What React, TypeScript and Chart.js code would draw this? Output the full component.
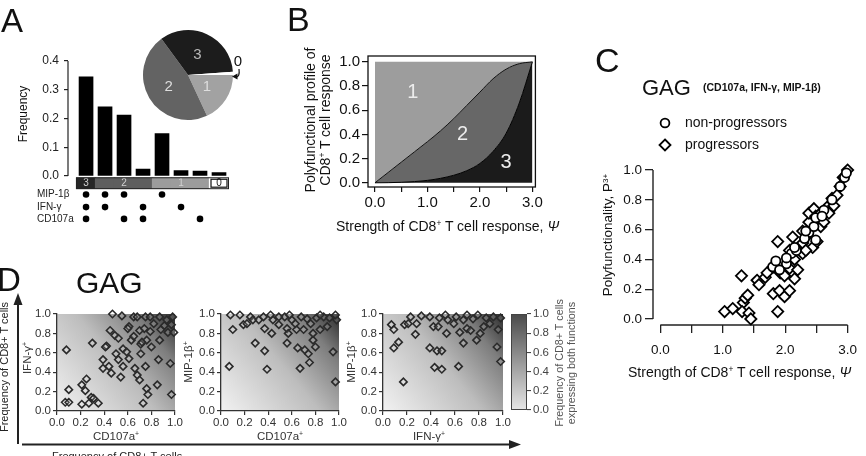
import React, { useEffect, useRef } from "react";
import { Chart, registerables } from "chart.js";

Chart.register(...registerables);

const FONT = "'Liberation Sans', Arial, Helvetica, sans-serif";
Chart.defaults.font.family = FONT;
Chart.defaults.color = "#111";

/* ---------------- Panel A ---------------- */
const aCategories = ["MIP-1β IFN-γ CD107a", "MIP-1β IFN-γ", "MIP-1β CD107a", "IFN-γ CD107a", "MIP-1β", "IFN-γ", "CD107a", "none"];
const aFrequency = [0.345, 0.241, 0.212, 0.024, 0.148, 0.019, 0.017, 0.012];
const aDegree = [3, 2, 2, 2, 1, 1, 1, 0];
const aMarkerNames = ["MIP-1β", "IFN-γ", "CD107a"];
const aHasMIP = [1, 1, 1, 0, 1, 0, 0, 0];
const aHasIFN = [1, 1, 0, 1, 0, 1, 0, 0];
const aHasCD107a = [1, 0, 1, 1, 0, 0, 1, 0];
const aYTicks = [0, 0.1, 0.2, 0.3, 0.4];
const pieOrder = [1, 2, 3, 0];

/* ---------------- Panel B ---------------- */
const bStrength = [0, 0.25, 0.5, 0.75, 1, 1.25, 1.5, 1.75, 2, 2.25, 2.5, 2.75, 3];
const bUpper = [0, 0.085, 0.17, 0.255, 0.34, 0.43, 0.53, 0.64, 0.75, 0.86, 0.94, 0.985, 1];
const bLower = [0, 0.001, 0.004, 0.01, 0.02, 0.037, 0.062, 0.1, 0.16, 0.26, 0.41, 0.66, 1];
const bRegionLabels = ["1", "2", "3"];
const bRegionX = [0.72, 1.67, 2.5];
const bRegionY = [0.75, 0.4, 0.17];
const bXTicks = [0, 0.5, 1, 1.5, 2, 2.5, 3];
const bYTicks = [0, 0.2, 0.4, 0.6, 0.8, 1];

/* ---------------- Panel C ---------------- */
const cNonProgressors = [
  [1.80, 0.35], [1.85, 0.39], [2.02, 0.37], [2.10, 0.44], [2.18, 0.46], [2.38, 0.58], [2.46, 0.62],
  [2.49, 0.68], [2.62, 0.73], [2.75, 0.80], [2.88, 0.89], [2.95, 0.95], [2.98, 0.98], [2.31, 0.54],
  [1.91, 0.33], [2.02, 0.41], [2.59, 0.69], [2.15, 0.48], [2.49, 0.53], [2.33, 0.59],
];
const cProgressors = [
  [1.03, 0.05], [1.16, 0.07], [1.30, 0.29], [1.33, 0.11], [1.36, 0.14], [1.40, 0.16], [1.31, 0.05],
  [1.42, 0.04], [1.45, 0.0], [1.55, 0.26], [1.58, 0.23], [1.68, 0.28], [1.81, 0.17], [1.88, 0.52],
  [1.88, 0.05], [1.91, 0.19], [1.92, 0.31], [1.99, 0.15], [2.07, 0.19], [2.15, 0.27], [2.12, 0.55],
  [1.99, 0.29], [2.07, 0.34], [2.15, 0.40], [2.28, 0.44], [2.33, 0.55], [2.38, 0.65], [2.38, 0.71],
  [2.46, 0.74], [2.49, 0.69], [2.44, 0.48], [2.51, 0.52], [2.57, 0.62], [2.62, 0.65], [2.67, 0.75],
  [2.75, 0.81], [2.83, 0.83], [2.78, 0.76], [2.88, 0.89], [2.93, 0.95], [3.0, 1.0], [2.28, 0.51],
  [1.81, 0.35], [1.71, 0.31], [2.33, 0.46], [2.20, 0.33], [2.07, 0.46], [2.70, 0.71], [2.57, 0.71],
  [2.28, 0.59],
];
const cXTicks = [0, 0.5, 1, 1.5, 2, 2.5, 3];
const cYTicks = [0, 0.2, 0.4, 0.6, 0.8, 1];

/* ---------------- Panel D ---------------- */
const dCd107aIfng = [
  [0.08, 0.63], [0.07, 0.09], [0.10, 0.22], [0.10, 0.09], [0.21, 0.07], [0.21, 0.27], [0.24, 0.21],
  [0.25, 0.33], [0.27, 0.08], [0.29, 0.14], [0.31, 0.13], [0.35, 0.08], [0.30, 0.70], [0.42, 0.67],
  [0.39, 0.53], [0.39, 0.44], [0.44, 0.46], [0.46, 0.39], [0.45, 0.83], [0.49, 0.78], [0.52, 0.75],
  [0.50, 0.59], [0.52, 0.53], [0.54, 0.35], [0.56, 0.46], [0.56, 0.64], [0.59, 0.61], [0.61, 0.54],
  [0.61, 0.87], [0.55, 0.98], [0.47, 1.0], [0.65, 0.97], [0.68, 0.97], [0.70, 0.83], [0.71, 0.69],
  [0.71, 0.59], [0.66, 0.44], [0.68, 0.37], [0.70, 0.32], [0.73, 0.08], [0.75, 0.46], [0.76, 0.23],
  [0.77, 0.17], [0.75, 0.97], [0.74, 0.85], [0.76, 0.73], [0.79, 0.82], [0.80, 0.66], [0.82, 0.90],
  [0.85, 0.27], [0.86, 0.53], [0.87, 0.73], [0.88, 0.84], [0.91, 0.88], [0.93, 0.94], [0.94, 0.81],
  [0.96, 0.49], [0.97, 0.17], [0.98, 0.97], [0.97, 0.89], [0.99, 0.81], [0.63, 0.73], [0.65, 0.77],
  [0.79, 0.97], [0.87, 0.97], [0.72, 0.71], [0.60, 0.85], [0.41, 0.66],
];
const dCd107aMip = [
  [0.07, 0.46], [0.10, 0.84], [0.08, 0.99], [0.19, 0.89], [0.22, 0.90], [0.25, 0.97], [0.29, 0.70],
  [0.27, 0.94], [0.32, 0.94], [0.37, 0.85], [0.37, 0.62], [0.39, 0.43], [0.43, 0.80], [0.36, 0.97],
  [0.44, 0.94], [0.49, 0.89], [0.54, 0.97], [0.56, 0.70], [0.56, 0.85], [0.57, 0.80], [0.60, 0.94],
  [0.64, 0.84], [0.65, 0.65], [0.67, 0.44], [0.71, 0.63], [0.74, 0.59], [0.75, 0.50], [0.73, 0.95],
  [0.76, 0.90], [0.78, 0.73], [0.80, 0.66], [0.84, 0.84], [0.90, 0.87], [0.95, 0.61], [0.97, 0.30],
  [0.98, 0.94], [0.68, 0.97], [0.81, 0.96], [0.87, 0.97], [0.92, 0.96], [0.63, 0.90], [0.70, 0.84],
  [0.49, 0.97], [0.42, 0.99], [0.78, 0.80], [0.16, 0.99], [0.58, 0.99], [0.84, 0.99], [0.97, 0.99],
];
const dIfngMip = [
  [0.07, 0.89], [0.09, 0.84], [0.09, 0.65], [0.13, 0.71], [0.17, 0.30], [0.18, 0.89], [0.21, 0.90],
  [0.27, 0.79], [0.28, 0.90], [0.23, 0.97], [0.32, 0.98], [0.39, 0.65], [0.42, 0.87], [0.46, 0.87],
  [0.45, 0.62], [0.49, 0.62], [0.43, 0.45], [0.49, 0.43], [0.53, 0.80], [0.54, 0.94], [0.63, 0.46],
  [0.64, 0.81], [0.67, 0.70], [0.70, 0.85], [0.73, 0.83], [0.78, 0.73], [0.81, 0.80], [0.84, 0.87],
  [0.95, 0.66], [0.96, 0.84], [0.98, 0.51], [0.61, 0.97], [0.67, 0.94], [0.75, 0.95], [0.86, 0.96],
  [0.92, 0.97], [0.98, 0.96], [0.47, 0.96], [0.39, 0.97], [0.70, 0.99], [0.79, 0.99], [0.52, 0.99],
  [0.59, 0.90], [0.89, 0.90],
];
const dTicks = [0, 0.2, 0.4, 0.6, 0.8, 1];
const colorbarTicks = [0, 0.2, 0.4, 0.6, 0.8, 1];

/* ---------------- styles ---------------- */
const DEGREE_COLORS: Record<number, string> = { 3: "#1c1c1c", 2: "#636363", 1: "#a2a2a2", 0: "#ffffff" };
const STRIP_COLORS: Record<number, string> = { 3: "#262626", 2: "#5e5e5e", 1: "#9c9c9c", 0: "#ffffff" };
const A_STRIP_LO = -0.044;
const A_STRIP_HI = -0.006;
const A_ROW_Y = [-0.064, -0.108, -0.149];

const base: any = {
  animation: false,
  responsive: false,
  maintainAspectRatio: false,
  events: [],
  plugins: { legend: { display: false }, tooltip: { enabled: false } },
};

const setTicks = (vals: number[]) => (s: any) => {
  s.ticks = vals.map((v) => ({ value: v }));
};
const fix1 = (v: any) => Number(v).toFixed(1);
const intLabel = (v: any) => (Number.isInteger(Number(v)) ? Number(v).toFixed(1) : "");

/* ---------------- chart builders ---------------- */
function buildA() {
  const rows = [aHasMIP, aHasIFN, aHasCD107a];
  const dots: any[] = [];
  rows.forEach((row, r) => row.forEach((has, i) => { if (has) dots.push({ x: i + 1, y: A_ROW_Y[r] }); }));
  const decor = {
    id: "aDecor",
    afterDatasetsDraw(chart: any) {
      const { ctx, chartArea: ca } = chart;
      const xs = chart.scales.x, ys = chart.scales.y;
      ctx.save();
      ctx.strokeStyle = "#222";
      ctx.lineWidth = 1.2;
      ctx.beginPath();
      ctx.moveTo(ca.left, ys.getPixelForValue(0));
      ctx.lineTo(ca.left, ys.getPixelForValue(0.4));
      ctx.stroke();
      const half = (xs.getPixelForValue(2) - xs.getPixelForValue(1)) / 2;
      const top = ys.getPixelForValue(A_STRIP_HI), bot = ys.getPixelForValue(A_STRIP_LO);
      let i = 0;
      while (i < aDegree.length) {
        let j = i;
        while (j + 1 < aDegree.length && aDegree[j + 1] === aDegree[i]) j++;
        const l = xs.getPixelForValue(i + 1) - half, r = xs.getPixelForValue(j + 1) + half;
        if (aDegree[i] === 0) {
          ctx.strokeStyle = "#111";
          ctx.lineWidth = 1.2;
          ctx.strokeRect(l + 1.5, top + 1.5, r - l - 3, bot - top - 3);
        }
        ctx.fillStyle = aDegree[i] === 0 ? "#111" : "#d2d2d2";
        ctx.font = `10px ${FONT}`;
        ctx.textAlign = "center";
        ctx.textBaseline = "middle";
        ctx.fillText(String(aDegree[i]), (l + r) / 2, (top + bot) / 2 + 0.5);
        i = j + 1;
      }
      const l0 = xs.getPixelForValue(1) - half, r0 = xs.getPixelForValue(aDegree.length) + half;
      ctx.strokeStyle = "#222";
      ctx.lineWidth = 1;
      ctx.strokeRect(l0, top, r0 - l0, bot - top);
      ctx.fillStyle = "#222";
      ctx.font = `10px ${FONT}`;
      ctx.textAlign = "left";
      ctx.textBaseline = "middle";
      aMarkerNames.forEach((n, r) => ctx.fillText(n, ca.left - 31, ys.getPixelForValue(A_ROW_Y[r])));
      ctx.restore();
    },
  };
  return {
    type: "bar",
    data: {
      labels: aCategories,
      datasets: [
        { type: "bar", label: "Frequency", data: aFrequency.map((v, i) => ({ x: i + 1, y: v })), backgroundColor: "#000", barThickness: 14, grouped: false },
        { type: "bar", label: "Degree", data: aDegree.map((d, i) => ({ x: i + 1, y: [A_STRIP_LO, A_STRIP_HI] })), backgroundColor: aDegree.map((d) => STRIP_COLORS[d]), barThickness: 19.6, grouped: false },
        { type: "line", label: "Markers", data: dots, showLine: false, pointRadius: 3.3, pointBackgroundColor: "#000", pointBorderWidth: 0, clip: false },
      ],
    },
    options: {
      ...base,
      layout: { padding: { left: 0, top: 21, right: 11.5, bottom: 7.9 } },
      scales: {
        x: { type: "linear", display: false, min: 0.05, max: 8.5, offset: false },
        y: {
          type: "linear", min: -0.18, max: 0.4,
          afterBuildTicks: setTicks(aYTicks),
          afterFit: (s: any) => { s.width = 68; },
          border: { display: false },
          grid: { display: true, drawOnChartArea: false, drawTicks: true, tickLength: 4, color: "#222", lineWidth: 1.2 },
          ticks: { font: { family: FONT, size: 12 }, color: "#222", padding: 5, callback: fix1 },
        },
      },
    },
    plugins: [decor],
  };
}

function buildPie() {
  const values = pieOrder.map((d) => aFrequency.reduce((s, v, i) => s + (aDegree[i] === d ? v : 0), 0));
  const decor = {
    id: "pieDecor",
    afterDatasetsDraw(chart: any) {
      const { ctx } = chart;
      const meta = chart.getDatasetMeta(0);
      ctx.save();
      ctx.font = `15px ${FONT}`;
      ctx.textAlign = "center";
      ctx.textBaseline = "middle";
      meta.data.forEach((arc: any, i: number) => {
        if (pieOrder[i] === 0) return;
        const p = arc.tooltipPosition();
        ctx.fillStyle = pieOrder[i] === 3 ? "#b8b8b8" : "#dedede";
        ctx.fillText(String(pieOrder[i]), p.x, p.y);
      });
      const a0: any = meta.data[0];
      const x = a0.x, y = a0.y, R = a0.outerRadius;
      ctx.fillStyle = "#111";
      ctx.fillText("0", x + R + 5, y - 13);
      ctx.strokeStyle = "#111";
      ctx.lineWidth = 1.2;
      ctx.beginPath();
      ctx.moveTo(x + R + 6, y - 6);
      ctx.quadraticCurveTo(x + R + 7, y + 2, x + R + 3, y + 2);
      ctx.stroke();
      ctx.beginPath();
      ctx.moveTo(x + R - 1, y + 1.5);
      ctx.lineTo(x + R + 4.5, y - 1.5);
      ctx.lineTo(x + R + 4.5, y + 4.5);
      ctx.closePath();
      ctx.fill();
      ctx.restore();
    },
  };
  return {
    type: "pie",
    data: { labels: pieOrder.map(String), datasets: [{ data: values, backgroundColor: pieOrder.map((d) => DEGREE_COLORS[d]), borderWidth: 0 }] },
    options: { ...base, rotation: 90, layout: { padding: { left: 10, top: 10, right: 20, bottom: 15 } } },
    plugins: [decor],
  };
}

function buildB() {
  const pts = (ys: number[]) => bStrength.map((x, i) => ({ x, y: ys[i] }));
  const decor = {
    id: "bDecor",
    afterDatasetsDraw(chart: any) {
      const { ctx, chartArea: ca } = chart;
      const xs = chart.scales.x, ys = chart.scales.y;
      ctx.save();
      ctx.fillStyle = "#ececec";
      ctx.font = `20px ${FONT}`;
      ctx.textAlign = "center";
      ctx.textBaseline = "middle";
      bRegionLabels.forEach((t, i) => ctx.fillText(t, xs.getPixelForValue(bRegionX[i]), ys.getPixelForValue(bRegionY[i])));
      ctx.strokeStyle = "#111";
      ctx.lineWidth = 1.3;
      ctx.strokeRect(ca.left, ca.top, ca.right - ca.left, ca.bottom - ca.top);
      ctx.restore();
    },
  };
  const tickFont = { family: FONT, size: 15 };
  return {
    type: "line",
    data: {
      datasets: [
        { label: "3", data: pts(bLower), fill: { value: 0 }, backgroundColor: "#1b1b1b", borderColor: "#000", borderWidth: 1, pointRadius: 0, cubicInterpolationMode: "monotone" },
        { label: "2", data: pts(bUpper), fill: "-1", backgroundColor: "#676767", borderColor: "#111", borderWidth: 1, pointRadius: 0, cubicInterpolationMode: "monotone" },
        { label: "1", data: bStrength.map((x) => ({ x, y: 1 })), fill: "-1", backgroundColor: "#9d9d9d", borderWidth: 0, pointRadius: 0 },
      ],
    },
    options: {
      ...base,
      layout: { padding: { left: 0, top: 8, right: 9, bottom: 3 } },
      scales: {
        x: {
          type: "linear", min: -0.1329, max: 3.057,
          afterBuildTicks: setTicks(bXTicks),
          afterFit: (s: any) => { s.height = 30; },
          border: { display: false },
          grid: { drawOnChartArea: false, tickLength: 5, color: "#111", lineWidth: 1.2 },
          ticks: { font: tickFont, color: "#111", padding: 2, maxRotation: 0, autoSkip: false, callback: intLabel },
        },
        y: {
          type: "linear", min: -0.0348, max: 1.0485,
          afterBuildTicks: setTicks(bYTicks),
          afterFit: (s: any) => { s.width = 38; },
          border: { display: false },
          grid: { drawOnChartArea: false, tickLength: 6, color: "#111", lineWidth: 1.2 },
          ticks: { font: tickFont, color: "#111", padding: 2, callback: fix1 },
        },
      },
    },
    plugins: [decor],
  };
}

function drawDiamond(ctx: any, x: number, y: number, r: number) {
  ctx.beginPath();
  ctx.moveTo(x, y - r);
  ctx.lineTo(x + r, y);
  ctx.lineTo(x, y + r);
  ctx.lineTo(x - r, y);
  ctx.closePath();
}

function buildC() {
  const decor = {
    id: "cDecor",
    beforeDatasetsDraw(chart: any) {
      const { ctx, chartArea: ca } = chart;
      const xs = chart.scales.x, ys = chart.scales.y;
      ctx.save();
      ctx.strokeStyle = "#222";
      ctx.lineWidth = 1.4;
      ctx.beginPath();
      ctx.moveTo(ca.left, ys.getPixelForValue(0));
      ctx.lineTo(ca.left, ys.getPixelForValue(1));
      ctx.moveTo(xs.getPixelForValue(0), ca.bottom);
      ctx.lineTo(xs.getPixelForValue(3), ca.bottom);
      ctx.stroke();
      ctx.restore();
    },
    afterDatasetsDraw(chart: any) {
      const { ctx } = chart;
      ctx.save();
      ctx.strokeStyle = "#000";
      ctx.lineWidth = 1.8;
      ctx.fillStyle = "#fff";
      ctx.beginPath();
      ctx.arc(75, 83, 4.4, 0, Math.PI * 2);
      ctx.fill();
      ctx.stroke();
      drawDiamond(ctx, 75, 105, 5.5);
      ctx.fill();
      ctx.stroke();
      ctx.fillStyle = "#111";
      ctx.font = `14px ${FONT}`;
      ctx.textAlign = "left";
      ctx.textBaseline = "middle";
      ctx.fillText("non-progressors", 95, 83);
      ctx.fillText("progressors", 95, 105);
      ctx.restore();
    },
  };
  const tickFont = { family: FONT, size: 13.5 };
  return {
    type: "scatter",
    data: {
      datasets: [
        { label: "non-progressors", data: cNonProgressors.map(([x, y]) => ({ x, y })), pointStyle: "circle", pointRadius: 4.6, borderWidth: 1.8, borderColor: "#000", backgroundColor: "#fff", clip: false },
        { label: "progressors", data: cProgressors.map(([x, y]) => ({ x, y })), pointStyle: "rectRot", pointRadius: 5.6, borderWidth: 1.8, borderColor: "#000", backgroundColor: "#fff", clip: false },
      ],
    },
    options: {
      ...base,
      layout: { padding: { left: 0, top: 130, right: 13, bottom: 20 } },
      scales: {
        x: {
          type: "linear", min: -0.117, max: 3,
          afterBuildTicks: setTicks(cXTicks),
          afterFit: (s: any) => { s.height = 40; },
          border: { display: false },
          grid: { drawOnChartArea: false, tickLength: 8, color: "#222", lineWidth: 1.3 },
          ticks: { font: tickFont, color: "#111", padding: 9, maxRotation: 0, autoSkip: false, callback: intLabel },
        },
        y: {
          type: "linear", min: -0.0403, max: 1,
          afterBuildTicks: setTicks(cYTicks),
          afterFit: (s: any) => { s.width = 63; },
          border: { display: false },
          grid: { drawOnChartArea: false, tickLength: 8, color: "#222", lineWidth: 1.3 },
          ticks: { font: tickFont, color: "#111", padding: 3, callback: fix1 },
        },
      },
    },
    plugins: [decor],
  };
}

const heatmap = {
  id: "heatmap",
  beforeDraw(chart: any) {
    const { ctx, chartArea: ca } = chart;
    ctx.save();
    const g = ctx.createLinearGradient(ca.left, ca.bottom, ca.right, ca.top);
    g.addColorStop(0, "#f2f2f2");
    g.addColorStop(0.5, "#bdbdbd");
    g.addColorStop(0.8, "#7d7d7d");
    g.addColorStop(1, "#2c2c2c");
    ctx.fillStyle = g;
    ctx.fillRect(ca.left, ca.top, ca.right - ca.left, ca.bottom - ca.top);
    ctx.restore();
  },
};

function buildD(points: number[][], yWidth: number, rightPad: number) {
  const tickFont = { family: FONT, size: 11.5 };
  const axis = (afterFit: (s: any) => void, padding: number) => ({
    type: "linear", min: 0, max: 1,
    afterBuildTicks: setTicks(dTicks),
    afterFit,
    border: { display: true, color: "#333", width: 1.3 },
    grid: { drawOnChartArea: false, tickLength: 4, color: "#333", lineWidth: 1.2 },
    ticks: { font: tickFont, color: "#333", padding, maxRotation: 0, autoSkip: false, callback: fix1 },
  });
  return {
    type: "scatter",
    data: {
      datasets: [
        { data: points.map(([x, y]) => ({ x, y })), pointStyle: "rectRot", pointRadius: 3.7, borderWidth: 1.6, borderColor: "#2a2a2a", backgroundColor: "rgba(255,255,255,0.15)", clip: false },
      ],
    },
    options: {
      ...base,
      layout: { padding: { left: 0, top: 14, right: rightPad, bottom: 17 } },
      scales: {
        x: axis((s: any) => { s.height = 22; }, 1),
        y: axis((s: any) => { s.width = yWidth; }, 2),
      },
    },
    plugins: [heatmap],
  };
}

function buildColorbar() {
  const bar = {
    id: "colorbar",
    beforeDraw(chart: any) {
      const { ctx, chartArea: ca } = chart;
      ctx.save();
      const g = ctx.createLinearGradient(0, ca.top, 0, ca.bottom);
      g.addColorStop(0, "#4a4a4a");
      g.addColorStop(1, "#e6e6e6");
      ctx.fillStyle = g;
      ctx.fillRect(ca.left, ca.top, ca.right - ca.left, ca.bottom - ca.top);
      ctx.strokeStyle = "#444";
      ctx.lineWidth = 1;
      ctx.strokeRect(ca.left + 0.5, ca.top + 0.5, ca.right - ca.left - 1, ca.bottom - ca.top - 1);
      ctx.restore();
    },
  };
  return {
    type: "scatter",
    data: { datasets: [] },
    options: {
      ...base,
      layout: { padding: { left: 6, top: 14, right: 0, bottom: 40 } },
      scales: {
        x: { type: "linear", display: false, min: 0, max: 1 },
        y: {
          type: "linear", position: "right", min: 0, max: 1,
          afterBuildTicks: setTicks(colorbarTicks),
          afterFit: (s: any) => { s.width = 40; },
          border: { display: false },
          grid: { drawOnChartArea: false, tickLength: 4, color: "#444", lineWidth: 1.1 },
          ticks: { font: { family: FONT, size: 11.5 }, color: "#444", padding: 2, callback: fix1 },
        },
      },
    },
    plugins: [bar],
  };
}

/* ---------------- components ---------------- */
function ChartBox({ x, y, w, h, build }: { x: number; y: number; w: number; h: number; build: () => any }) {
  const ref = useRef<HTMLCanvasElement | null>(null);
  useEffect(() => {
    const chart = new Chart(ref.current as HTMLCanvasElement, build());
    return () => chart.destroy();
  }, []);
  return <canvas ref={ref} width={w} height={h} style={{ position: "absolute", left: x, top: y, width: w, height: h }} />;
}

function Label({ x, y, size, children, align = "left", rotate = false, bold = false, color = "#111", lh }: any) {
  const style: any = {
    position: "absolute", left: x, top: y, fontSize: size, lineHeight: `${lh ?? size}px`,
    whiteSpace: "nowrap", color, fontWeight: bold ? 700 : 400, fontFamily: FONT, textAlign: "center",
  };
  if (rotate) style.transform = "translate(-50%, -50%) rotate(-90deg)";
  else style.transform = align === "center" ? "translate(-50%, -50%)" : "translate(0, -50%)";
  return <div style={style}>{children}</div>;
}

const Sup = ({ c }: { c: string }) => (
  <span style={{ fontSize: "0.6em", position: "relative", top: "-0.55em", lineHeight: 0 }}>{c}</span>
);

export default function App() {
  return (
    <div style={{ position: "absolute", left: 0, top: 0, width: 866, height: 456, overflow: "hidden", background: "#fff", fontFamily: FONT }}>
      <ChartBox x={0} y={40} w={240} h={200} build={buildA} />
      <ChartBox x={133} y={20} w={120} h={115} build={buildPie} />
      <ChartBox x={330} y={45} w={215} h={175} build={buildB} />
      <ChartBox x={590} y={40} w={276} h={345} build={buildC} />
      <ChartBox x={20} y={300} w={165} h={150} build={() => buildD(dCd107aIfng, 37, 10)} />
      <ChartBox x={185} y={300} w={165} h={150} build={() => buildD(dCd107aMip, 36, 11)} />
      <ChartBox x={350} y={300} w={163} h={150} build={() => buildD(dIfngMip, 33, 10)} />
      <ChartBox x={505} y={300} w={62} h={150} build={buildColorbar} />

      <svg width={866} height={456} style={{ position: "absolute", left: 0, top: 0, pointerEvents: "none" }}>
        <line x1={18} y1={444} x2={18} y2={303} stroke="#222" strokeWidth={2} />
        <polygon points="18,293 13.5,305 22.5,305" fill="#222" />
        <line x1={22} y1={444.5} x2={511} y2={444.5} stroke="#222" strokeWidth={2} />
        <polygon points="521,444.5 509,440 509,449" fill="#222" />
      </svg>

      {/* Panel A */}
      <Label x={1} y={20} size={33}>A</Label>
      <Label x={23} y={113.5} size={12} rotate>Frequency</Label>

      {/* Panel B */}
      <Label x={287} y={19} size={34}>B</Label>
      <Label x={318} y={120} size={14} lh={15} rotate>
        Polyfunctional profile of<br />CD8<Sup c="+" /> T cell response
      </Label>
      <Label x={336} y={226} size={14}>
        Strength of CD8<Sup c="+" /> T cell response, <i>Ψ</i>
      </Label>

      {/* Panel C */}
      <Label x={595} y={60} size={34}>C</Label>
      <Label x={642} y={88} size={22}>GAG</Label>
      <Label x={703} y={87} size={10.5} bold>(CD107a, IFN-γ, MIP-1β)</Label>
      <Label x={608} y={235} size={13.5} rotate>
        Polyfunctionality, P<Sup c="3+" />
      </Label>
      <Label x={628} y={372} size={14}>
        Strength of CD8<Sup c="+" /> T cell response, <i>Ψ</i>
      </Label>

      {/* Panel D */}
      <Label x={-3} y={278.5} size={33}>D</Label>
      <Label x={76} y={283} size={30}>GAG</Label>
      <Label x={4} y={367} size={11} rotate color="#222">Frequency of CD8+ T cells</Label>
      <Label x={52} y={456} size={11} color="#222">Frequency of CD8+ T cells</Label>
      <Label x={28} y={358} size={11.5} rotate color="#333">IFN-γ<Sup c="+" /></Label>
      <Label x={189} y={362} size={11.5} rotate color="#333">MIP-1β<Sup c="+" /></Label>
      <Label x={352} y={362} size={11.5} rotate color="#333">MIP-1β<Sup c="+" /></Label>
      <Label x={116} y={437} size={11.5} align="center" color="#333">CD107a<Sup c="+" /></Label>
      <Label x={280} y={437} size={11.5} align="center" color="#333">CD107a<Sup c="+" /></Label>
      <Label x={429} y={437} size={11.5} align="center" color="#333">IFN-γ<Sup c="+" /></Label>
      <Label x={565} y={363} size={10.8} lh={11.5} rotate color="#555">
        Frequency of CD8+ T cells<br />expressing both functions
      </Label>
    </div>
  );
}
